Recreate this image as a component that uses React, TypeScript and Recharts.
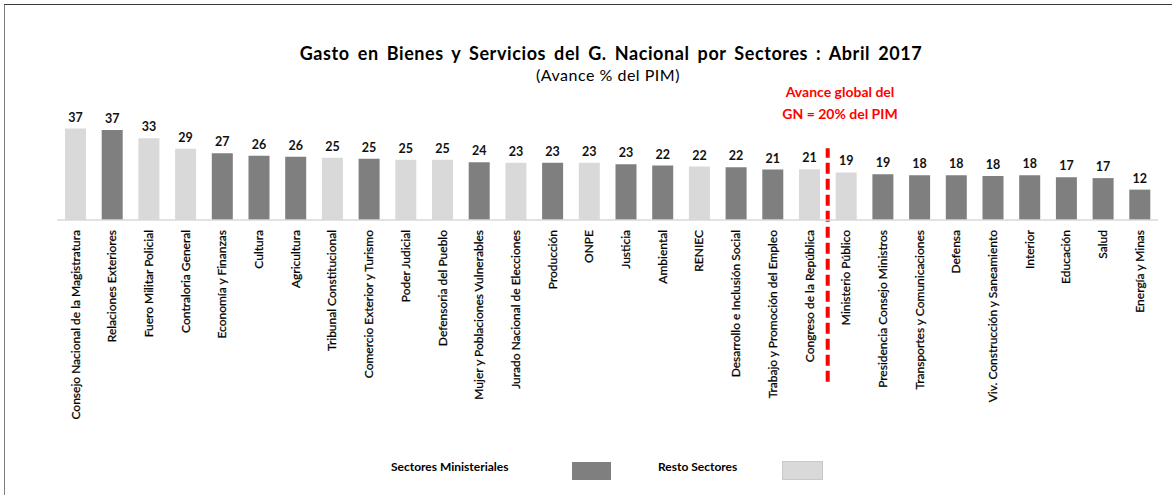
import { Bar, BarChart, Cell, LabelList, ReferenceLine, XAxis, YAxis } from "recharts";

const sectores = [
  "Consejo Nacional de la Magistratura",
  "Relaciones Exteriores",
  "Fuero Militar Policial",
  "Contraloria General",
  "Economía y Finanzas",
  "Cultura",
  "Agricultura",
  "Tribunal Constitucional",
  "Comercio Exterior y Turismo",
  "Poder Judicial",
  "Defensoria del Pueblo",
  "Mujer y Poblaciones Vulnerables",
  "Jurado Nacional de Elecciones",
  "Producción",
  "ONPE",
  "Justicia",
  "Ambiental",
  "RENIEC",
  "Desarrollo e Inclusión Social",
  "Trabajo y Promoción del Empleo",
  "Congreso de la República",
  "Ministerio Público",
  "Presidencia Consejo Ministros",
  "Transportes y Comunicaciones",
  "Defensa",
  "Viv. Construcción y Saneamiento",
  "Interior",
  "Educación",
  "Salud",
  "Energía y Minas",
];

// avance % del PIM
const avance = [
  37.3, 36.7, 33.4, 29.1, 27.2, 26.2, 25.8, 25.4, 25.0, 24.6, 24.6, 23.6,
  23.4, 23.4, 23.4, 22.8, 22.2, 21.8, 21.5, 20.6, 20.7, 19.4, 18.7, 18.3,
  18.3, 18.0, 18.3, 17.4, 17.1, 12.4,
];

// true = Sectores Ministeriales, false = Resto Sectores
const ministerial = [
  false, true, false, false, true, true, true, false, true, false, false, true,
  false, true, false, true, true, false, true, true, false, false, true, true,
  true, true, true, true, true, true,
];

const avanceGlobal = 20;

const DARK = "#7f7f7f";
const LIGHT = "#d9d9d9";
const FONT = "Lato, 'Open Sans', sans-serif";

const rows = sectores.map((name, i) => ({
  name,
  avance: avance[i],
  ministerial: ministerial[i],
}));

// the divider sits in front of the first sector below the global average
const firstBelow = sectores[avance.findIndex((v) => v < avanceGlobal)];

function CategoryTick(props: any) {
  const { x, y, payload } = props;
  return (
    <text
      transform={`translate(${x}, ${y + 2}) rotate(-90)`}
      textAnchor="end"
      dy="0.35em"
      fontFamily={FONT}
      fontSize={12}
      fill="#000"
      stroke="#000"
      strokeWidth={0.25}
    >
      {payload.value}
    </text>
  );
}

export default function App() {
  return (
    <div
      style={{
        position: "relative",
        width: 1172,
        height: 495,
        background: "#fff",
        fontFamily: FONT,
        overflow: "hidden",
      }}
    >
      <style>{`body { margin: 0; }`}</style>
      <div
        style={{
          position: "absolute",
          left: 4,
          top: 4,
          right: 0,
          bottom: 0,
          borderTop: "1px solid #3a3a3a",
          borderLeft: "1px solid #7f7f7f",
        }}
      />
      <BarChart
        width={1172}
        height={495}
        data={rows}
        margin={{ top: 122, right: 14, left: 57, bottom: 0 }}
        barSize={21}
      >
        <XAxis
          dataKey="name"
          interval={0}
          height={275}
          tickLine={false}
          axisLine={{ stroke: LIGHT, strokeWidth: 1.5 }}
          tick={<CategoryTick />}
        />
        <YAxis domain={[0, 40]} hide />
        <Bar dataKey="avance" isAnimationActive={false}>
          {rows.map((r) => (
            <Cell key={r.name} fill={r.ministerial ? DARK : LIGHT} />
          ))}
          <LabelList
            dataKey="avance"
            position="top"
            offset={7}
            formatter={(v: any) => Math.round(Number(v))}
            style={{ fontFamily: FONT, fontSize: 12.5, fontWeight: 700, fill: "#111" }}
          />
        </Bar>
        <ReferenceLine
          segment={[
            { x: firstBelow, y: -66 },
            { x: firstBelow, y: 29.3 },
          ]}
          position="start"
          ifOverflow="visible"
          stroke="#ff0000"
          strokeWidth={4}
          strokeDasharray="11 5"
        />
      </BarChart>

      <div
        style={{
          position: "absolute",
          left: 611,
          top: 42,
          transform: "translateX(-50%)",
          whiteSpace: "nowrap",
          fontSize: 18,
          lineHeight: "22px",
          fontWeight: 700,
          letterSpacing: 0.6,
          wordSpacing: 3,
          color: "#000",
        }}
      >
        Gasto en Bienes y Servicios del G. Nacional por Sectores : Abril 2017
      </div>
      <div
        style={{
          position: "absolute",
          left: 608,
          top: 65,
          transform: "translateX(-50%)",
          whiteSpace: "nowrap",
          fontSize: 16,
          lineHeight: "20px",
          letterSpacing: 0.5,
          color: "#000",
        }}
      >
        (Avance % del PIM)
      </div>
      <div
        style={{
          position: "absolute",
          left: 840,
          top: 81,
          transform: "translateX(-50%)",
          whiteSpace: "nowrap",
          textAlign: "center",
          fontSize: 14,
          lineHeight: "22px",
          fontWeight: 700,
          color: "#ff0000",
        }}
      >
        Avance global del
        <br />
        GN = {avanceGlobal}% del PIM
      </div>

      <div
        style={{
          position: "absolute",
          left: 391,
          top: 459,
          fontSize: 12,
          lineHeight: "16px",
          fontWeight: 700,
          color: "#000",
          whiteSpace: "nowrap",
        }}
      >
        Sectores Ministeriales
      </div>
      <div
        style={{
          position: "absolute",
          left: 572,
          top: 462,
          width: 39,
          height: 18,
          background: DARK,
        }}
      />
      <div
        style={{
          position: "absolute",
          left: 658,
          top: 459,
          fontSize: 12,
          lineHeight: "16px",
          fontWeight: 700,
          color: "#000",
          whiteSpace: "nowrap",
        }}
      >
        Resto Sectores
      </div>
      <div
        style={{
          position: "absolute",
          left: 782,
          top: 461,
          width: 39,
          height: 17,
          background: LIGHT,
          border: "1px solid #c9c9c9",
        }}
      />
    </div>
  );
}
